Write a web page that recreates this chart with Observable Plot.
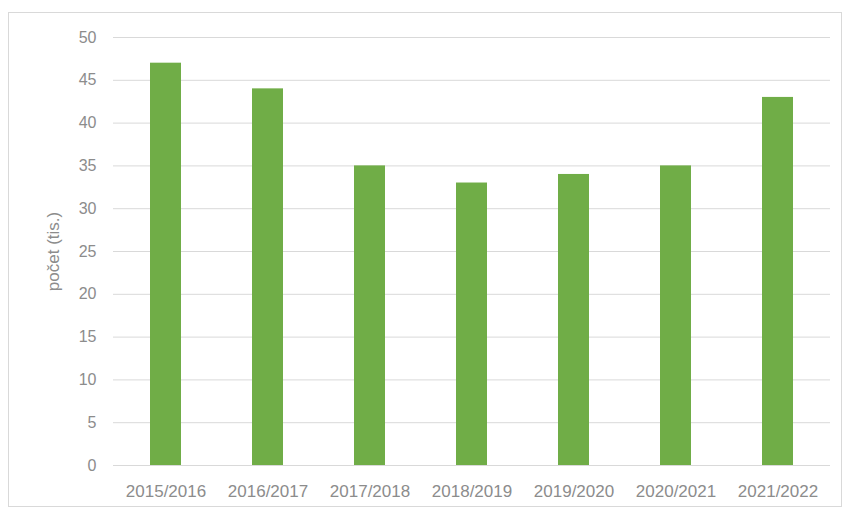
<!DOCTYPE html>
<html>
<head>
<meta charset="utf-8">
<script src="https://cdn.jsdelivr.net/npm/d3@7"></script>
<script src="https://cdn.jsdelivr.net/npm/@observablehq/plot@0.6"></script>
<style>
  html, body { margin: 0; padding: 0; background: #fff; }
  #wrap { position: relative; width: 847px; height: 516px; overflow: hidden; }
  #frame { position: absolute; left: 8px; top: 12px; width: 834px; height: 495px; border: 1px solid #d9d9d9; box-sizing: border-box; }
  #chart { position: absolute; left: 0; top: 0; }
</style>
</head>
<body>
<div id="wrap"><div id="frame"></div><div id="chart"></div></div>
<script>
const seasons = ["2015/2016", "2016/2017", "2017/2018", "2018/2019", "2019/2020", "2020/2021", "2021/2022"];
const values = [47, 44, 35, 33, 34, 35, 43];
const yTicks = [0, 5, 10, 15, 20, 25, 30, 35, 40, 45, 50];
const yLabel = "počet (tis.)";

const data = seasons.map((s, i) => ({season: s, value: values[i]}));

const chart = Plot.plot({
  width: 847,
  height: 516,
  marginTop: 37,
  marginBottom: 51,
  marginLeft: 113,
  marginRight: 17,
  style: {fontFamily: "'Liberation Sans', Arial, sans-serif", background: "transparent", color: "#8c8c8c"},
  x: {domain: seasons, paddingInner: 0.7, paddingOuter: 0.35, label: null},
  y: {domain: [0, 50], label: null},
  marks: [
    Plot.ruleY(yTicks, {stroke: "#d9d9d9", strokeWidth: 1}),
    Plot.barY(data, {x: "season", y: "value", fill: "#70ad47"}),
    Plot.axisY({ticks: yTicks, tickSize: 0, tickPadding: 17, fontSize: 16, fill: "#8c8c8c", label: null}),
    Plot.axisX({tickSize: 0, tickPadding: 19, fontSize: 17, fill: "#8c8c8c", label: null}),
    Plot.text([yLabel], {frameAnchor: "left", dx: -60, rotate: -90, fontSize: 17, fill: "#8c8c8c", textAnchor: "middle"})
  ]
});
document.getElementById("chart").appendChild(chart);
</script>
</body>
</html>
